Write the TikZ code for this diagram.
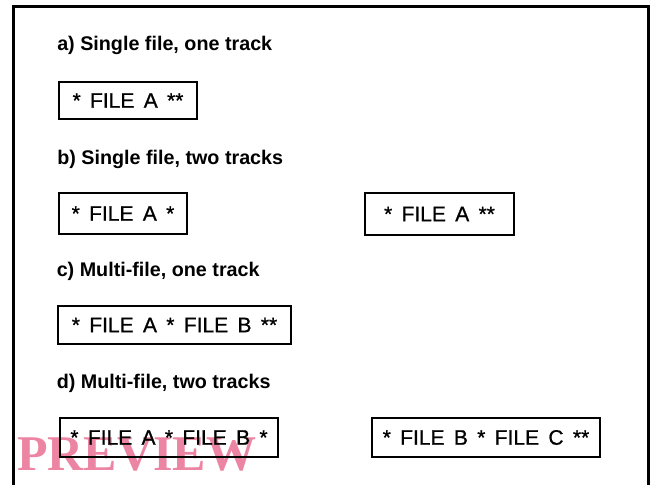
\documentclass[tikz,border=0pt]{standalone}
\usepackage{fontspec}
\newfontfamily\headfont{Liberation Sans}
\newfontfamily\boxfont{Liberation Sans}[WordSpace=1.6,FakeBold=0.8]
\newfontfamily\markfont{Liberation Serif}
\definecolor{markpink}{RGB}{236,133,163}
\begin{document}
\begin{tikzpicture}[x=0.75pt,y=-0.75pt,
  heading/.style={anchor=base west,inner sep=0pt,
    font=\headfont\bfseries\fontsize{14.8}{17}\selectfont},
  trackbox/.style={draw,line width=1.5pt,inner sep=0pt,
    font=\boxfont\fontsize{15.75}{18}\selectfont},
  frameline/.style={line width=2.25pt},
  stamp/.style={anchor=base west,inner sep=0pt,text=markpink,
    font=\markfont\bfseries\fontsize{37.5}{42}\selectfont}
]
\useasboundingbox (0,0) rectangle (653,485);
\clip (0,0) rectangle (653,485);

% stamp lies underneath the line work
\node[stamp] (stampmark) at (17,470) {PREVIEW};

% outer frame, open at the bottom
\draw[frameline] (13,500) -- (13,7) -- (648,7) -- (648,500);

% a) single file, one track
\node[heading] (ha) at (57,51) {a) Single file, one track};
\node[trackbox,minimum width=103.5pt,minimum height=27.75pt] (a1) at (128,100.5) {* FILE A **};

% b) single file, two tracks
\node[heading] (hb) at (57,164) {b) Single file, two tracks};
\node[trackbox,minimum width=96pt,minimum height=30.75pt] (b1) at (123,213.5) {* FILE A *};
\node[trackbox,minimum width=111.75pt,minimum height=31.5pt] (b2) at (439.5,214) {* FILE A **};

% c) multi-file, one track
\node[heading] (hc) at (56.5,276) {c) Multi-file, one track};
\node[trackbox,minimum width=174.75pt,minimum height=28.5pt] (c1) at (174.5,325) {* FILE A * FILE B **};

% d) multi-file, two tracks
\node[heading] (hd) at (56.5,388) {d) Multi-file, two tracks};
\node[trackbox,minimum width=163.5pt,minimum height=29.25pt] (d1) at (169,437.5) {* FILE A * FILE B *};
\node[trackbox,minimum width=171pt,minimum height=29.25pt] (d2) at (486,437.5) {* FILE B * FILE C **};
\end{tikzpicture}
\end{document}
